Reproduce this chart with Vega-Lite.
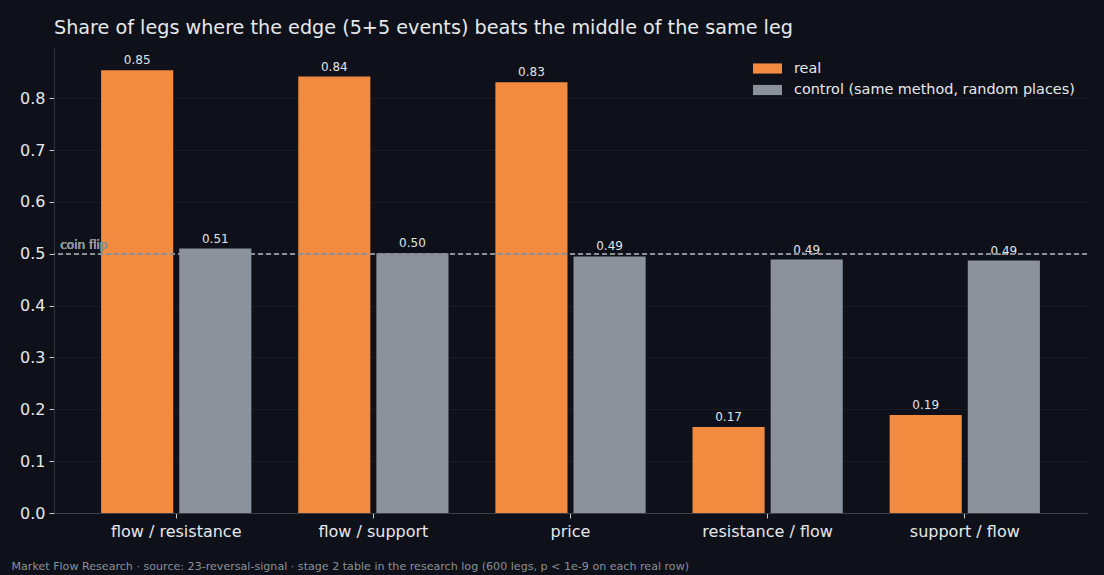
{
  "$schema": "https://vega.github.io/schema/vega-lite/v6.json",
  "autosize": {"type": "none"},
  "width": 1033,
  "height": 465,
  "padding": {"left": 54, "top": 48, "right": 17, "bottom": 62},
  "background": "#0e1119",
  "config": {
    "view": {"stroke": null},
    "font": "DejaVu Sans",
    "axis": {"labelFont": "DejaVu Sans", "titleFont": "DejaVu Sans"}
  },
  "title": {
    "text": "Share of legs where the edge (5+5 events) beats the middle of the same leg",
    "anchor": "start",
    "frame": "group",
    "font": "DejaVu Sans",
    "fontSize": 19.2,
    "fontWeight": "normal",
    "color": "#e6e8ec",
    "offset": 10
  },
  "data": {
    "values": [
      {"cat": "flow / resistance", "series": "real", "value": 0.854, "label": "0.85"},
      {"cat": "flow / resistance", "series": "control (same method, random places)", "value": 0.510, "label": "0.51"},
      {"cat": "flow / support", "series": "real", "value": 0.842, "label": "0.84"},
      {"cat": "flow / support", "series": "control (same method, random places)", "value": 0.501, "label": "0.50"},
      {"cat": "price", "series": "real", "value": 0.831, "label": "0.83"},
      {"cat": "price", "series": "control (same method, random places)", "value": 0.495, "label": "0.49"},
      {"cat": "resistance / flow", "series": "real", "value": 0.166, "label": "0.17"},
      {"cat": "resistance / flow", "series": "control (same method, random places)", "value": 0.489, "label": "0.49"},
      {"cat": "support / flow", "series": "real", "value": 0.189, "label": "0.19"},
      {"cat": "support / flow", "series": "control (same method, random places)", "value": 0.487, "label": "0.49"}
    ]
  },
  "encoding": {
    "x": {
      "field": "cat",
      "type": "nominal",
      "sort": null,
      "scale": {"paddingInner": 0, "paddingOuter": 0.12},
      "axis": {
        "title": "Market Flow Research · source: 23-reversal-signal · stage 2 table in the research log (600 legs, p < 1e-9 on each real row)",
        "titleAnchor": "start",
        "titleAlign": "left",
        "titleBaseline": "middle",
        "titleX": -43,
        "titleY": 53,
        "titleFontSize": 11.1,
        "titleFontWeight": "normal",
        "titleColor": "#8b9098",
        "labelAngle": 0,
        "labelFontSize": 16,
        "labelColor": "#e6e8ec",
        "labelPadding": 5,
        "tickColor": "#c8ccd2",
        "tickSize": 5,
        "domainColor": "#3a3f48",
        "grid": false
      }
    },
    "y": {
      "field": "value",
      "type": "quantitative",
      "scale": {"domain": [0, 0.897], "nice": false},
      "axis": {
        "title": null,
        "values": [0, 0.1, 0.2, 0.3, 0.4, 0.5, 0.6, 0.7, 0.8],
        "format": ".1f",
        "labelFontSize": 16,
        "labelColor": "#e6e8ec",
        "labelPadding": 4,
        "tickColor": "#c8ccd2",
        "tickSize": 5,
        "domainColor": "#30353d",
        "gridColor": "#171b23",
        "gridWidth": 1
      }
    }
  },
  "layer": [
    {
      "mark": {"type": "bar"},
      "encoding": {
        "xOffset": {
          "field": "series",
          "type": "nominal",
          "sort": ["real", "control (same method, random places)"],
          "scale": {"paddingInner": 0.077, "paddingOuter": 0.3}
        },
        "color": {
          "field": "series",
          "type": "nominal",
          "sort": ["real", "control (same method, random places)"],
          "scale": {"domain": ["real", "control (same method, random places)"], "range": ["#f28a40", "#8c929c"]},
          "legend": {
            "title": null,
            "orient": "none",
            "legendX": 706,
            "legendY": 13,
            "padding": 0,
            "symbolType": "M-2,-0.7 h4 v1.4 h-4 Z",
            "symbolSize": 210,
            "symbolStrokeWidth": 0,
            "labelOffset": 19,
            "labelFontSize": 14.4,
            "labelFont": "DejaVu Sans",
            "labelColor": "#e6e8ec",
            "rowPadding": 6.5,
            "labelLimit": 400
          }
        }
      }
    },
    {
      "mark": {"type": "text", "baseline": "bottom", "dy": -3, "fontSize": 12, "color": "#e0e3e8", "font": "DejaVu Sans"},
      "encoding": {
        "xOffset": {
          "field": "series",
          "type": "nominal",
          "sort": ["real", "control (same method, random places)"],
          "scale": {"paddingInner": 0.077, "paddingOuter": 0.3}
        },
        "text": {"field": "label", "type": "nominal"}
      }
    },
    {
      "mark": {"type": "rule", "color": "#8b9098", "strokeDash": [5, 3], "strokeWidth": 1.3},
      "encoding": {"y": {"datum": 0.5}, "x": null}
    },
    {
      "mark": {"type": "text", "align": "left", "baseline": "bottom", "dx": -116, "dy": -2, "fontSize": 12, "color": "#8b9098", "text": "coin flip", "font": "DejaVu Sans"},
      "encoding": {"x": {"datum": "flow / resistance"}, "y": {"datum": 0.5}}
    }
  ]
}
